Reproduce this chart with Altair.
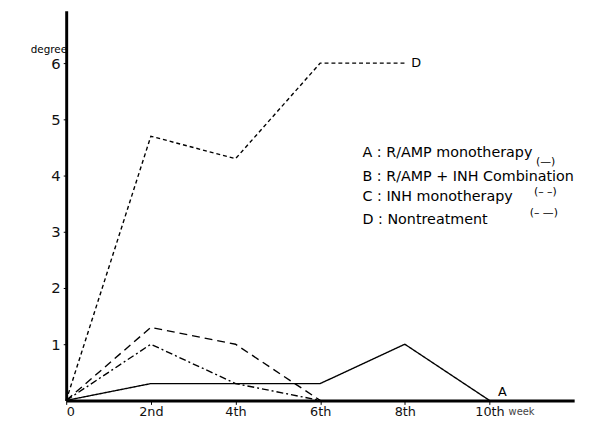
import altair as alt
import pandas as pd

# ---- data ----
weeks_A = [0, 2, 4, 6, 8, 10]
vals_A = [0, 0.3, 0.3, 0.3, 1.0, 0]
weeks_B = [0, 2, 4, 6]
vals_B = [0, 1.3, 1.0, 0]
weeks_C = [0, 2, 4, 6]
vals_C = [0, 1.0, 0.3, 0]
weeks_D = [0, 2, 4, 6, 8]
vals_D = [0, 4.7, 4.3, 6.0, 6.0]

x_ticks = [0, 2, 4, 6, 8, 10]
x_labels = ["0", "2nd", "4th", "6th", "8th", "10th"]
y_ticks = [1, 2, 3, 4, 5, 6]

legend_text = ["A : R/AMP monotherapy", "B : R/AMP + INH Combination",
               "C : INH monotherapy", "D : Nontreatment"]
legend_x = [7.0, 7.0, 7.0, 7.0]
legend_y = [4.40, 3.98, 3.61, 3.21]
style_text = ["(—)", "(– –)", "(– —)"]
style_x = [11.1, 11.05, 10.95]
style_y = [4.24, 3.71, 3.34]
end_labels = ["D", "A"]
end_x = [8.15, 10.2]
end_y = [6.0, 0.15]

rows = []
for s, ws, vs in [("A", weeks_A, vals_A), ("B", weeks_B, vals_B),
                  ("C", weeks_C, vals_C), ("D", weeks_D, vals_D)]:
    for w, v in zip(ws, vs):
        rows.append({"series": s, "week": w, "value": v})
df = pd.DataFrame(rows)

leg = pd.DataFrame({"t": legend_text, "x": legend_x, "y": legend_y})
sty = pd.DataFrame({"t": style_text, "x": style_x, "y": style_y})
ends = pd.DataFrame({"t": end_labels, "x": end_x, "y": end_y})

FONT = "DejaVu Sans"
label_map = "{" + ",".join(f"'{v}':'{l}'" for v, l in zip(x_ticks, x_labels)) + "}"

xscale = alt.Scale(domain=[0, 12], nice=False)
yscale = alt.Scale(domain=[0, 6.93], nice=False)

lines = alt.Chart(df).mark_line(color="black", strokeWidth=1.4).encode(
    x=alt.X("week:Q", scale=xscale,
            axis=alt.Axis(values=x_ticks, labelExpr=label_map + "[datum.value]",
                          grid=False, domainWidth=3, domainColor="black",
                          tickColor="black", tickSize=4, labelFont=FONT,
                          labelFontSize=13, labelColor="#111", labelPadding=1,
                          title="week", titleFont=FONT, titleFontSize=10,
                          titleFontWeight="normal", titleX=448, titleY=11,
                          titleAlign="left", titleBaseline="middle",
                          titleColor="#444")),
    y=alt.Y("value:Q", scale=yscale,
            axis=alt.Axis(values=y_ticks, format="d", grid=False, domainWidth=3,
                          domainColor="black", tickColor="black", tickSize=3,
                          labelFont=FONT, labelFontSize=15, labelColor="#111",
                          labelPadding=3, title="degree", titleAngle=0,
                          titleFont=FONT, titleFontSize=10.5,
                          titleFontWeight="normal", titleX=-18, titleY=39,
                          titleAlign="center", titleBaseline="middle")),
    strokeDash=alt.StrokeDash("series:N",
                              scale=alt.Scale(domain=["A", "B", "C", "D"],
                                              range=[[1, 0], [8, 5], [7, 3, 2, 3], [4, 3]]),
                              legend=None),
    detail="series:N",
)

leg_marks = alt.Chart(leg).mark_text(align="left", baseline="middle", font=FONT,
                                     fontSize=14.5, color="black").encode(
    x=alt.X("x:Q", scale=xscale), y=alt.Y("y:Q", scale=yscale), text="t:N")
sty_marks = alt.Chart(sty).mark_text(align="left", baseline="middle", font=FONT,
                                     fontSize=11, color="black").encode(
    x=alt.X("x:Q", scale=xscale), y=alt.Y("y:Q", scale=yscale), text="t:N")
end_marks = alt.Chart(ends).mark_text(align="left", baseline="middle", font=FONT,
                                      fontSize=13, color="black").encode(
    x=alt.X("x:Q", scale=xscale), y=alt.Y("y:Q", scale=yscale), text="t:N")

chart = alt.layer(lines, leg_marks, sty_marks, end_marks).properties(
    width=515, height=395,
    background="white",
    autosize=alt.AutoSizeParams(type="none"),
    padding={"left": 59, "top": 0, "right": 12, "bottom": 21},
).configure_view(stroke=None)

chart.save("out.html", embed_options={"renderer": "svg", "actions": False})
